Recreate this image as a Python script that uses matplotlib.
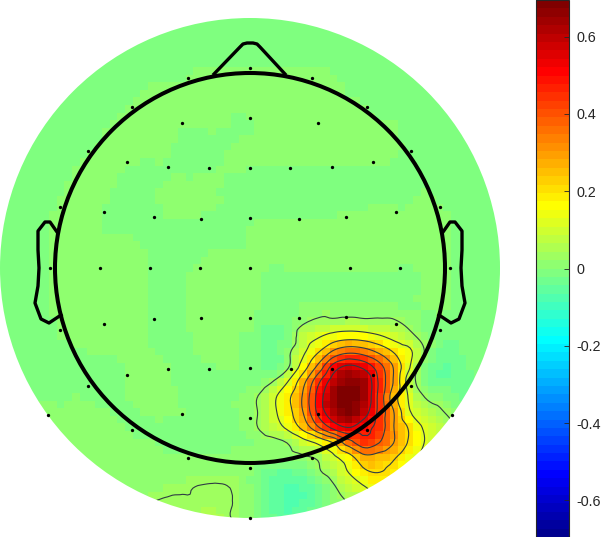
import numpy as np
import matplotlib
matplotlib.use('Agg')
import matplotlib.pyplot as plt
import matplotlib.tri as mtri
from matplotlib.colors import ListedColormap
from matplotlib.patches import Circle

plt.rcParams['font.family'] = ['Liberation Sans', 'DejaVu Sans']

# scalp values in hundredths, read row by row from the top of the disk
rows = [
 [-1,-1,-1,-1,-1,-1,-1,-1,-1,-1,-1,-1,-1,-1,-1,-1,-1,-1,-1,-1,-1,-1,-1,-1,-1,-1,-1,-1,-1,-1,-1,-1,-1,-1],
 [-1,-1,-1,-1,-1,-1,-1,-1,-1,-1,-1,-1,-1,-1,-1,-1,-1,-1,-1,-1,-1,-1,-1,-1,-1,-1,-1,-1,-1,-1,-1,-1,-1,-1],
 [-1,-1,-1,-1,-1,-1,-1,-1,-1,-1,-1,-1,-1,-1,-1,-1,-1,-1,-1,-1,-1,-1,-1,-1,-1,-1,-1,-1,-1,-1,-1,-1,-1,-1],
 [-1,-1,-1,-1,-1,-1,-1,-1,-1,-1,-1,-1,-1,-1,-1,-1,-1,-1,-1,-1,-1,-1,-1,-1,-1,-1,-1,-1,-1,-1,-1,-1,-1,-1],
 [-1,-1,-1,-1,-1,-1,-1,-1,-1,-1,-1,-1,-1,1,1,1,1,1,1,1,1,1,1,-1,-1,-1,-1,-1,-1,-1,-1,-1,-1,-1],
 [-1,-1,-1,-1,-1,-1,-1,-1,-1,-1,1,1,1,1,1,1,1,1,1,1,1,1,1,-1,-1,-1,-1,-1,-1,-1,-1,-1,-1,-1],
 [-1,-1,-1,-1,-1,-1,-1,-1,-1,1,1,1,1,1,1,1,1,1,1,1,1,1,1,1,1,-1,-1,-1,-1,-1,-1,-1,-1,-1],
 [-1,-1,-1,-1,-1,-1,-1,-1,1,1,1,1,.2,.2,1,1,-1,1,1,1,1,1,1,1,1,1,0,-1,-1,-1,-1,-1,-1,-1],
 [-1,-1,-1,-1,-1,-1,-1,1,1,1,1,1,-1,-1,-1,-1,.5,1,1,1,1,1,1,1,1,1,1,-1,-1,-1,-1,-1,-1,-1],
 [-1,-1,-1,-1,-1,-1,1,1,1,1,1,.5,-1,-1,-1,1,1,1,1,1,1,1,1,1,1,1,1,-1,-1,-1,-1,-1,-1,-1],
 [-1,-1,-1,-1,-1,.3,1,1,.5,-1,-1,-.5,-1,-1,-.3,.5,.5,-1,-1,-1,-1,-1,-1,-1,-1,-1,-1,-1,-1,-1,-1,-1,-1,-1],
 [-1,-1,-1,-1,-1,1,1,1,-1,-1,-1,.5,1,1,1,-1,-1,-1,-1,-1,-1,-1,-1,-1,-1,-1,-1,-1,-1,-1,-1,-1,-1,-1],
 [-1,-1,-1,-1,.3,1,1,.3,-1,-1,-1,1,1,1,1,-1,-1,-1,-1,-1,-1,-1,-1,-1,-1,-1,-1,-1,1,-.2,-1,-1,-1,-1],
 [-1,-1,-1,-1,1,1,1,-1,-1,-1,-1,.3,.3,.3,-1,-1,-.5,-.2,-.2,-.2,-.2,-.2,-.2,.3,1,1,1,1,1,1,-1,-1,-1,-1],
 [-1,-1,-1,-1,1,1,1,-.3,-1,-1,-1,-1,-1,-1,-1,-1,-.5,1,1,1,1,1,1,1,1,1,1,1,1,1,-1,-1,-1,-1],
 [-1,-1,-1,-1,1,1,1,1,1,1,-1,-1,-1,-1,-1,-1,-.5,1,1,1,1,1,1,1,1,1,1,1,1,1,-1,-1,-1,-1],
 [-1,-1,-1,-1,1,1,1,1,1,1,-1,-1,-1,-1,1,1,1,1,1,1,1,1,1,1,1,1,1,1,1,1,-1,-1,-1,-1],
 [-1,-1,-1,-1,1,1,1,1,1,1,-1,-1,-1,1,1,1,1,.3,-1,-1,-1,-1,-1,-1,-1,-1,-1,-1,1,1,-1,-1,-1,-1],
 [-1,-1,-1,-1,1,1,1,1,1,1,-1,-1,-1,1,1,1,1,0,-1,-1,-1,-1,-1,-1,-1,-1,-1,-1,1,1,-1,-1,-1,-1],
 [-1,-1,-1,-1,1,1,1,1,1,1,-1,-1,-1,1,1,1,1,0,-1.5,-1,0,.5,1,1,1,1,.5,-1,1,1,-1,-1,-1,-1],
 [-1,-1,-1,-1,1,1,1,1,1,1,-1,-1,-1,1,1,1,1,-1,-2,-1,2,4,4,4.5,4,4,3.5,1.5,-1,-1,-1,-1,-1,-1],
 [-1,-1,-1,-1,0,1,1,1,1,1,-1,-1,-1,1,1,1,-.5,-1,-3,-2,7,11,15,17,16,13,9,5,1,-1,-2,-1,-1,-1],
 [-1,-1,-1,-1,-1,-1,.2,.2,1,1,.3,-1,-1,.5,1,1,-.3,-1,-4,1.5,10,20,31,36,34,28,20,14,3,-3,-3,-1,-1,-1],
 [-1,-1,-1,-1,-1,-1,-1,-1,-.3,1,1,.5,-1,-1,-.5,1,-.5,-1.5,-3,2,16,32,50,57,53,42,29,13,-1,-4,-4,-2,-1,-1],
 [-1,-1,-1,-1,-1,-1,-1,-1,-.5,1,1,1,-1,-1,-1,-1,-1,-1,3,12,27,45,60,67,64,46,29,8,-1,-4,-4,-3,-1,-1],
 [-1,-1,-1,-1,-1,0,-1,-1,-.8,1,1,1,-.5,-1,-1,-1,1,3,10,19,31,50,65,69,64,45,25,11,3,1,-2,-2,-2,-1],
 [1,1,1,1,1,1,1,.3,-1,-.3,1,1,.2,-1,-1,-1,1,3,10,18,30,49,62,68,60,45,30,13,8,4,1,0,0,0],
 [1,1,1,1,1,1,1,1,.5,-1,-1,-1,-1,-1,-1,-1,0,3,8,14,24,38,50,56,50,44,30,20,11,7,3,1,1,1],
 [1,1,1,1,1,1,1,1,1,1,.3,-1,-1,-1,-1,-1,-.5,0,1,3.5,9,14,22,35,44,39,30,20,12,8,4,1,1,1],
 [1,1,1,1,1,1,1,1,1,1,1,1,1,1,1,1,1,.5,.5,1,2,4,10,17,27,26,22,15,10,5,2,1,1,1],
 [1,1,1,1,1,1,1.5,1.5,1.5,1.5,1.5,1.5,1.5,2,2,2,1,-1,-4,-5,-3,2,6,12,19,21,18,12,8,4,2,1,1,1],
 [1.5,1.5,1.5,1.5,1.5,1.5,1.5,1.5,1.5,1.5,1.8,2.2,2.6,3.1,3.3,3.1,2,-2,-5,-7,-6.5,-3,2,7,11,15,13,9,5,3,2,1,1,1],
 [2,2,2,2,2,2,2,2,2,2,3,3.4,3.4,3.4,3.6,3.3,2,-1,-5,-7,-6,-3,0,3,5,5,5,5,5,5,5,5,5,5],
 [3,3,3,3,3,3,3,3,3,3,3.5,3.5,3.5,4,6,3.3,2,-1,-4,-6,-5,-2,0,0,0,0,0,0,0,0,0,0,0,0],
]

# electrodes, offset from the head centre (head radius 195)
elec_x = [0,-62,-118,-162,-190,-200,-68,0,-123,-82,-41,0,40,-146,-96,-49,0,49,
          -150,-100,-50,0,62,117,68,161,123,82,190,146,96,100,150,200,
          -146,-96,-49,0,49,96,146,-190,190,-162,-123,-82,-41,0,41,82,123,161,
          -202,-118,-68,0,68,117,202,-62,62,0,0]
elec_y = [200,190,161,117,61,0,145,150,106,101,100,100,100,56,51,49,50,49,
          0,0,0,0,190,161,145,117,106,101,61,56,51,0,0,0,
          -56,-51,-50,-50,-50,-49,-56,-62,-62,-118,-107,-101,-101,-100,-101,-101,-107,-118,
          -147,-162,-146,-150,-146,-162,-147,-190,-190,-200,-250]

nose_x = [-36,-10,-7,-3,3,7,10,35]
nose_y = [194,221,224,225,225,224,221,194]
ear_x = [193,200,205,212,212,211,212,215,209,201,189]
ear_y = [36,46,46,37,18,0,-18,-35,-51,-55,-47]

contour_levels = [3, 12, 21, 30, 38.5, 47, 55.5]
cbar_ticks = [-0.6, -0.4, -0.2, 0, 0.2, 0.4, 0.6]
cbar_labels = ['-0.6', '-0.4', '-0.2', '0', '0.2', '0.4', '0.6']

# same 64 steps as the jet map in matlab
n = np.arange(1, 65) / 64
jet64 = ListedColormap(np.clip(np.column_stack([
    np.minimum(4 * n - 1.5, -4 * n + 4.5),
    np.minimum(4 * n - 0.5, -4 * n + 3.5),
    np.minimum(4 * n + 0.5, -4 * n + 2.5)]), 0, 1))

z = np.array(rows, dtype=float) / 100
grid = np.linspace(-250, 250, z.shape[0])
X, Y = np.meshgrid(grid, grid[::-1])

# surface is shown in blocks, contours on a finer mesh
tri = mtri.Triangulation(X.ravel(), Y.ravel())
surface = mtri.CubicTriInterpolator(tri, z.ravel(), kind='geom')
blocks = np.linspace(-250, 250, 67)
Xb, Yb = np.meshgrid(blocks, blocks[::-1])
fine = np.linspace(-250, 250, 201)
Xf, Yf = np.meshgrid(fine, fine[::-1])
half = (blocks[1] - blocks[0]) / 2

fig = plt.figure(figsize=(6.06, 5.37), dpi=100)
ax = fig.add_axes([0, 0, 1, 1])
ax.axis('off')

im = ax.imshow(surface(Xb, Yb).filled(0), cmap=jet64, vmin=-0.695, vmax=0.695,
               interpolation='nearest',
               extent=(-250 - half, 250 + half, -250 - half, 250 + half), zorder=1)
ax.set_xlim(-250, 356)
ax.set_ylim(-269, 268)
disk = Circle((0, 0), 250, transform=ax.transData)
im.set_clip_path(disk)

cs = ax.contour(Xf, Yf, surface(Xf, Yf).filled(0), levels=np.array(contour_levels) / 100,
                colors='#2f3d44', linewidths=0.8, zorder=2)
cs.set_clip_path(disk)

ax.add_patch(Circle((0, 0), 195, fill=False, ec='k', lw=2.9, zorder=4))
ax.plot(nose_x, nose_y, color='k', lw=2.4, zorder=4)
ax.plot(ear_x, ear_y, color='k', lw=2.4, zorder=4)
ax.plot(-np.array(ear_x), ear_y, color='k', lw=2.4, zorder=4)
ax.plot(elec_x, elec_y, 'o', color='k', ms=2.4, mew=0, zorder=5)

cax = fig.add_axes([535.5 / 606, 0, 33 / 606, 1])
cb = fig.colorbar(im, cax=cax)
cb.set_ticks(cbar_ticks, labels=cbar_labels)
cb.ax.tick_params(direction='in', length=3.6, width=0.6, color='#262626',
                  labelcolor='#262626', labelsize=10.4, pad=6)
cb.outline.set_edgecolor('#262626')
cb.outline.set_linewidth(0.8)

fig.savefig('out.png', dpi=100)
